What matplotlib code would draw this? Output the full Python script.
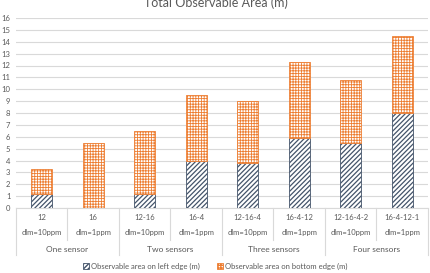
import matplotlib.pyplot as plt
import matplotlib.transforms as mtransforms
from matplotlib.patches import Patch

plt.rcParams['font.family'] = ['Lato', 'DejaVu Sans']

names = ['12', '16', '12-16', '16-4', '12-16-4', '16-4-12', '12-16-4-2', '16-4-12-1']
dlm = ['dlm=10ppm', 'dlm=1ppm'] * 4
groups = ['One sensor', 'Two sensors', 'Three sensors', 'Four sensors']
left_edge = [1.2, 0.0, 1.2, 4.0, 3.8, 5.9, 5.5, 8.0]
bottom_edge = [2.1, 5.5, 5.3, 5.55, 5.25, 6.4, 5.3, 6.45]

gray = '#595959'
navy = '#44546A'
orange = '#ED7D31'

fig = plt.figure(figsize=(4.31, 2.73), dpi=100)
ax = fig.add_axes([16 / 431, 65 / 273, 412 / 431, 190 / 273])

x = list(range(len(names)))
with plt.rc_context({'hatch.linewidth': 0.9}):
    ax.bar(x, left_edge, width=0.4, color='white', edgecolor=navy, hatch='///////',
           linewidth=0.6, zorder=3)
    h1 = Patch(facecolor='white', edgecolor=navy, hatch='///////', linewidth=0.6,
               label='Observable area on left edge (m)')
with plt.rc_context({'hatch.linewidth': 0.6}):
    ax.bar(x, bottom_edge, bottom=left_edge, width=0.4, color='white', edgecolor=orange,
           hatch='++++++', linewidth=0.6, zorder=3)
    h2 = Patch(facecolor='white', edgecolor=orange, hatch='++++++', linewidth=0.6,
               label='Observable area on bottom edge (m)')

ax.set_xlim(-0.5, len(names) - 0.5)
ax.set_ylim(0, 16)
ax.set_yticks(range(0, 17))
ax.tick_params(axis='y', length=0, labelsize=5.5, labelcolor=gray, pad=4)
ax.set_xticks([])
ax.grid(axis='y', color='#D9D9D9', linewidth=0.8, zorder=0)
for s in ['top', 'right', 'left']:
    ax.spines[s].set_visible(False)
ax.spines['bottom'].set_color('#D9D9D9')

trans = mtransforms.blended_transform_factory(ax.transData, fig.transFigure)
for i in range(len(names)):
    ax.text(i, 1 - 218 / 273, names[i], transform=trans, ha='center', va='center',
            fontsize=5.5, color=gray)
    ax.text(i, 1 - 233 / 273, dlm[i], transform=trans, ha='center', va='center',
            fontsize=5.5, color=gray)
for g in range(len(groups)):
    ax.text(2 * g + 0.5, 1 - 250 / 273, groups[g], transform=trans, ha='center', va='center',
            fontsize=6, color=gray)
for i in range(len(names) + 1):
    yb = 255 if i % 2 == 0 else 240
    ax.plot([i - 0.5, i - 0.5], [1 - 208 / 273, 1 - yb / 273], transform=trans,
            color='#D9D9D9', linewidth=0.8, clip_on=False)

fig.text(0.5, 1 - 3 / 273, 'Total Observable Area (m)', ha='center', va='center',
         fontsize=9, color=gray)

fig.legend(handles=[h1, h2], loc='center', bbox_to_anchor=(0.5, 1 - 266 / 273), ncol=2,
           frameon=False, fontsize=5.5, labelcolor=gray, handlelength=0.8, handleheight=0.8,
           handletextpad=0.3, columnspacing=2.2)

fig.savefig('out.png', dpi=100)
